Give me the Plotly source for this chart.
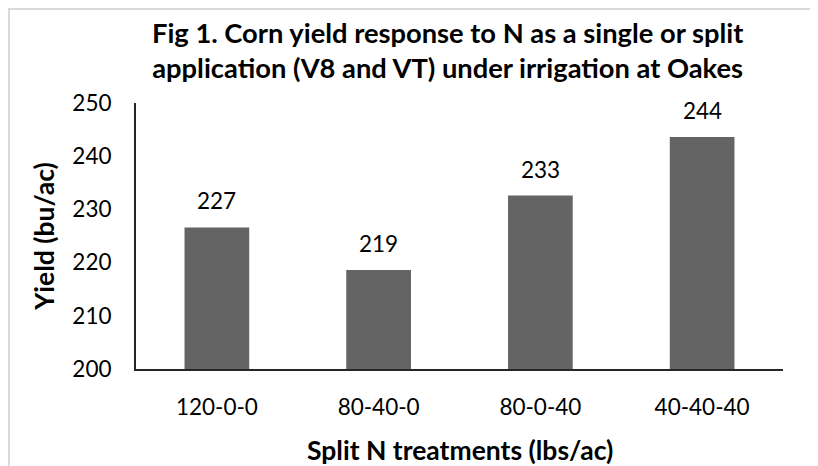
import plotly.graph_objects as go

categories = ["120-0-0", "80-40-0", "80-0-40", "40-40-40"]
yields = [226.6, 218.6, 232.6, 243.6]
y_ticks = [200, 210, 220, 230, 240, 250]

title_text = "Fig 1. Corn yield response to N as a single or split<br>application (V8 and VT) under irrigation at Oakes"
x_title = "Split N treatments (lbs/ac)"
y_title = "Yield (bu/ac)"

FONT = "Lato, 'Open Sans', sans-serif"
# page has an 8px body margin, so figure is drawn 8px smaller and offset
OFF = 8
W, H = 818 - OFF, 466 - OFF
L, R, T, B = 136 - OFF, 35, 103 - OFF, 97
pw, ph = W - L - R, H - T - B

def px_x(px):
    return (px - OFF - L) / pw

def px_y(py):
    return (H - B - (py - OFF)) / ph

fig = go.Figure()
fig.add_trace(go.Bar(
    x=categories, y=yields,
    marker=dict(color="#646464", line=dict(width=0)),
    hoverinfo="skip",
))

for c, v in zip(categories, yields):
    fig.add_annotation(x=c, y=v, text=f"{v:.0f}", showarrow=False,
                       yanchor="bottom", yshift=11,
                       font=dict(family=FONT, size=22.5, color="#000000"))

fig.add_annotation(xref="paper", yref="paper", x=px_x(447), y=px_y(49.5),
                   text=f"<b>{title_text}</b>", showarrow=False,
                   xanchor="center", yanchor="middle", align="center",
                   font=dict(family=FONT, size=27.3, color="#000000"))

# x-axis title
fig.add_annotation(xref="paper", yref="paper", x=0.5, y=px_y(450),
                   text=f"<b>{x_title}</b>", showarrow=False,
                   xanchor="center", yanchor="middle",
                   font=dict(family=FONT, size=26.5, color="#000000"))

fig.add_shape(type="rect", xref="paper", yref="paper",
              x0=px_x(OFF + 1), x1=px_x(860), y0=px_y(520), y1=px_y(OFF + 1),
              line=dict(color="#d9d9d9", width=2), fillcolor="rgba(0,0,0,0)",
              layer="below")

fig.update_layout(
    width=W, height=H,
    margin=dict(l=L, r=R, t=T, b=B, autoexpand=False),
    paper_bgcolor="white", plot_bgcolor="white",
    bargap=0.6, showlegend=False,
    font=dict(family=FONT, size=22.5, color="#000000"),
    xaxis=dict(
        automargin=False,
        showline=True, linecolor="#262626", linewidth=2,
        ticks="", showgrid=False, zeroline=False,
        ticklabelstandoff=17,
        tickfont=dict(family=FONT, size=22.5, color="#000000"),
    ),
    yaxis=dict(
        automargin=False,
        range=[200, 250], tickvals=y_ticks,
        showline=True, linecolor="#262626", linewidth=2,
        ticks="", showgrid=False, zeroline=False,
        ticklabelstandoff=18,
        tickfont=dict(family=FONT, size=22.5, color="#000000"),
        title=dict(text=f"<b>{y_title}</b>", standoff=10.5,
                   font=dict(family=FONT, size=26.5, color="#000000")),
    ),
)

fig.write_html("out.html")
